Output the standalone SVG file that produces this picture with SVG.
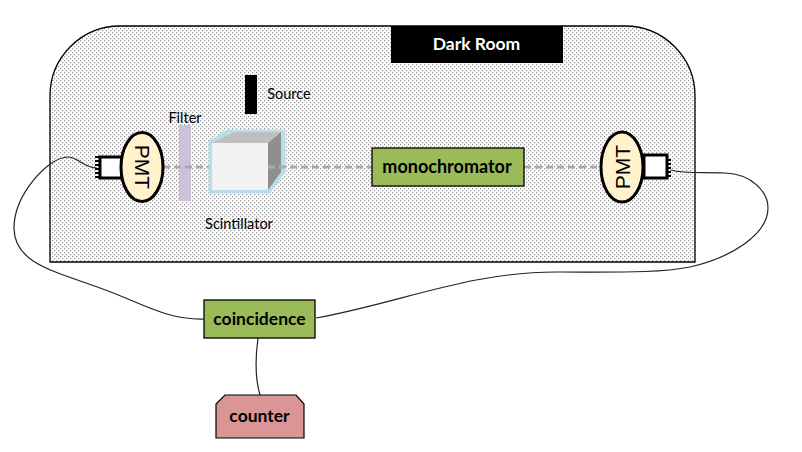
<svg xmlns="http://www.w3.org/2000/svg" width="802" height="452" viewBox="0 0 802 452">
<style>
text{font-family:Lato,"Open Sans","Liberation Sans",sans-serif;fill:#000;text-anchor:middle}
.b{font-weight:700;font-size:17.5px}
.s{font-size:14.5px}
.p{font-family:"Liberation Sans",sans-serif;font-size:21px}
.wire{fill:none;stroke:#222;stroke-width:1.2}
.beam{fill:none;stroke:#aaa;stroke-width:3.2;stroke-dasharray:7 4}
.pmt{fill:#fff2cc;stroke:#000;stroke-width:3}
.box{fill:#fff;stroke:#000;stroke-width:3}
.pin{stroke:#000;stroke-width:2}
.g{fill:#9bbb59;stroke:#000;stroke-width:1.3}
</style>
<defs>
<pattern id="dots" width="4" height="4" patternUnits="userSpaceOnUse">
<rect width="4" height="4" fill="#fff"/>
<rect width="1" height="1" fill="#999"/>
<rect x="2" y="2" width="1" height="1" fill="#999"/>
<rect x="1" y="0" width="1" height="1" fill="#e2e2e2"/>
<rect x="3" y="2" width="1" height="1" fill="#e2e2e2"/>
<rect x="0" y="1" width="1" height="1" fill="#e2e2e2"/>
<rect x="2" y="3" width="1" height="1" fill="#e2e2e2"/>
</pattern>
</defs>
<g id="room">
<path d="M50 262V96A70 70 0 0 1 120 26H625A70 70 0 0 1 695 96V262Z" fill="url(#dots)" stroke="#000" stroke-width="1.3"/>
</g>
<g id="dark-room-label">
<rect x="391" y="26" width="172" height="37" fill="#000"/>
<text x="476.500" y="50" class="b" style="fill:#fff">Dark Room</text>
</g>
<g id="source">
<rect x="245" y="75" width="12" height="39" fill="#000"/>
<text x="289" y="99" class="s">Source</text>
</g>
<g id="filter">
<rect x="179" y="125" width="12" height="76" fill="#ccc1da"/>
<text x="185" y="123" class="s">Filter</text>
</g>
<g id="connectors">
<path class="beam" d="M163 167H211M268 167H372M524 167H600"/>
<path class="wire" d="M97 168C84 168 78 157 68 157C48 157 14 195 14 228C14 262 50 270 100 288C140 302 165 320 204 319"/>
<path class="wire" d="M671 170C685 174 700 172 725 173C752 174 768 192 768 208C768 235 730 258 690 267C660 273 620 272 560 272C470 271 400 303 316 318"/>
<path class="wire" d="M258 338C255 360 255 378 260 395" stroke="#555"/>
</g>
<g id="scintillator">
<path d="M210 142L227 131H284V172L269 192H210Z" fill="#b7dde8" stroke="#b7dde8" stroke-width="3" stroke-linejoin="round"/>
<path d="M212 143L235 132H281L268 143Z" fill="#bfbfbf"/>
<path d="M268 143L281 132V172L268 190Z" fill="#8f8f8f"/>
<rect x="212" y="143" width="56" height="47" fill="#f2f2f2"/>
<path class="beam" d="M268 167H292"/>
<text x="239" y="229" class="s">Scintillator</text>
</g>
<g id="pmt-left">
<path class="pin" d="M95 157H100M95 161H100M95 165H100M95 169H100M95 173H100M95 177H100"/>
<rect x="100" y="157" width="22" height="21" class="box"/>
<ellipse cx="142" cy="167" rx="21" ry="34.500" class="pmt"/>
<text class="p" transform="translate(142 167) rotate(90)" y="7.500">PMT</text>
</g>
<g id="monochromator">
<rect x="372" y="148" width="152" height="38" class="g"/>
<text x="447" y="173" class="b" style="font-size:18px">monochromator</text>
</g>
<g id="pmt-right">
<path class="pin" d="M667 160H671M667 164H671M667 168H671M667 172H671M667 176H671"/>
<rect x="644" y="155" width="23" height="23" class="box"/>
<ellipse cx="622" cy="167" rx="21" ry="35" class="pmt"/>
<text class="p" transform="translate(622 167) rotate(-90)" y="7.500">PMT</text>
</g>
<g id="coincidence">
<rect x="204" y="300" width="111" height="38" class="g"/>
<text x="259.500" y="325" class="b">coincidence</text>
</g>
<g id="counter">
<path d="M225 395H296L304 404V438H216V404Z" fill="#d99694" stroke="#000" stroke-width="1.2"/>
<text x="259.500" y="422" class="b">counter</text>
</g>
</svg>
